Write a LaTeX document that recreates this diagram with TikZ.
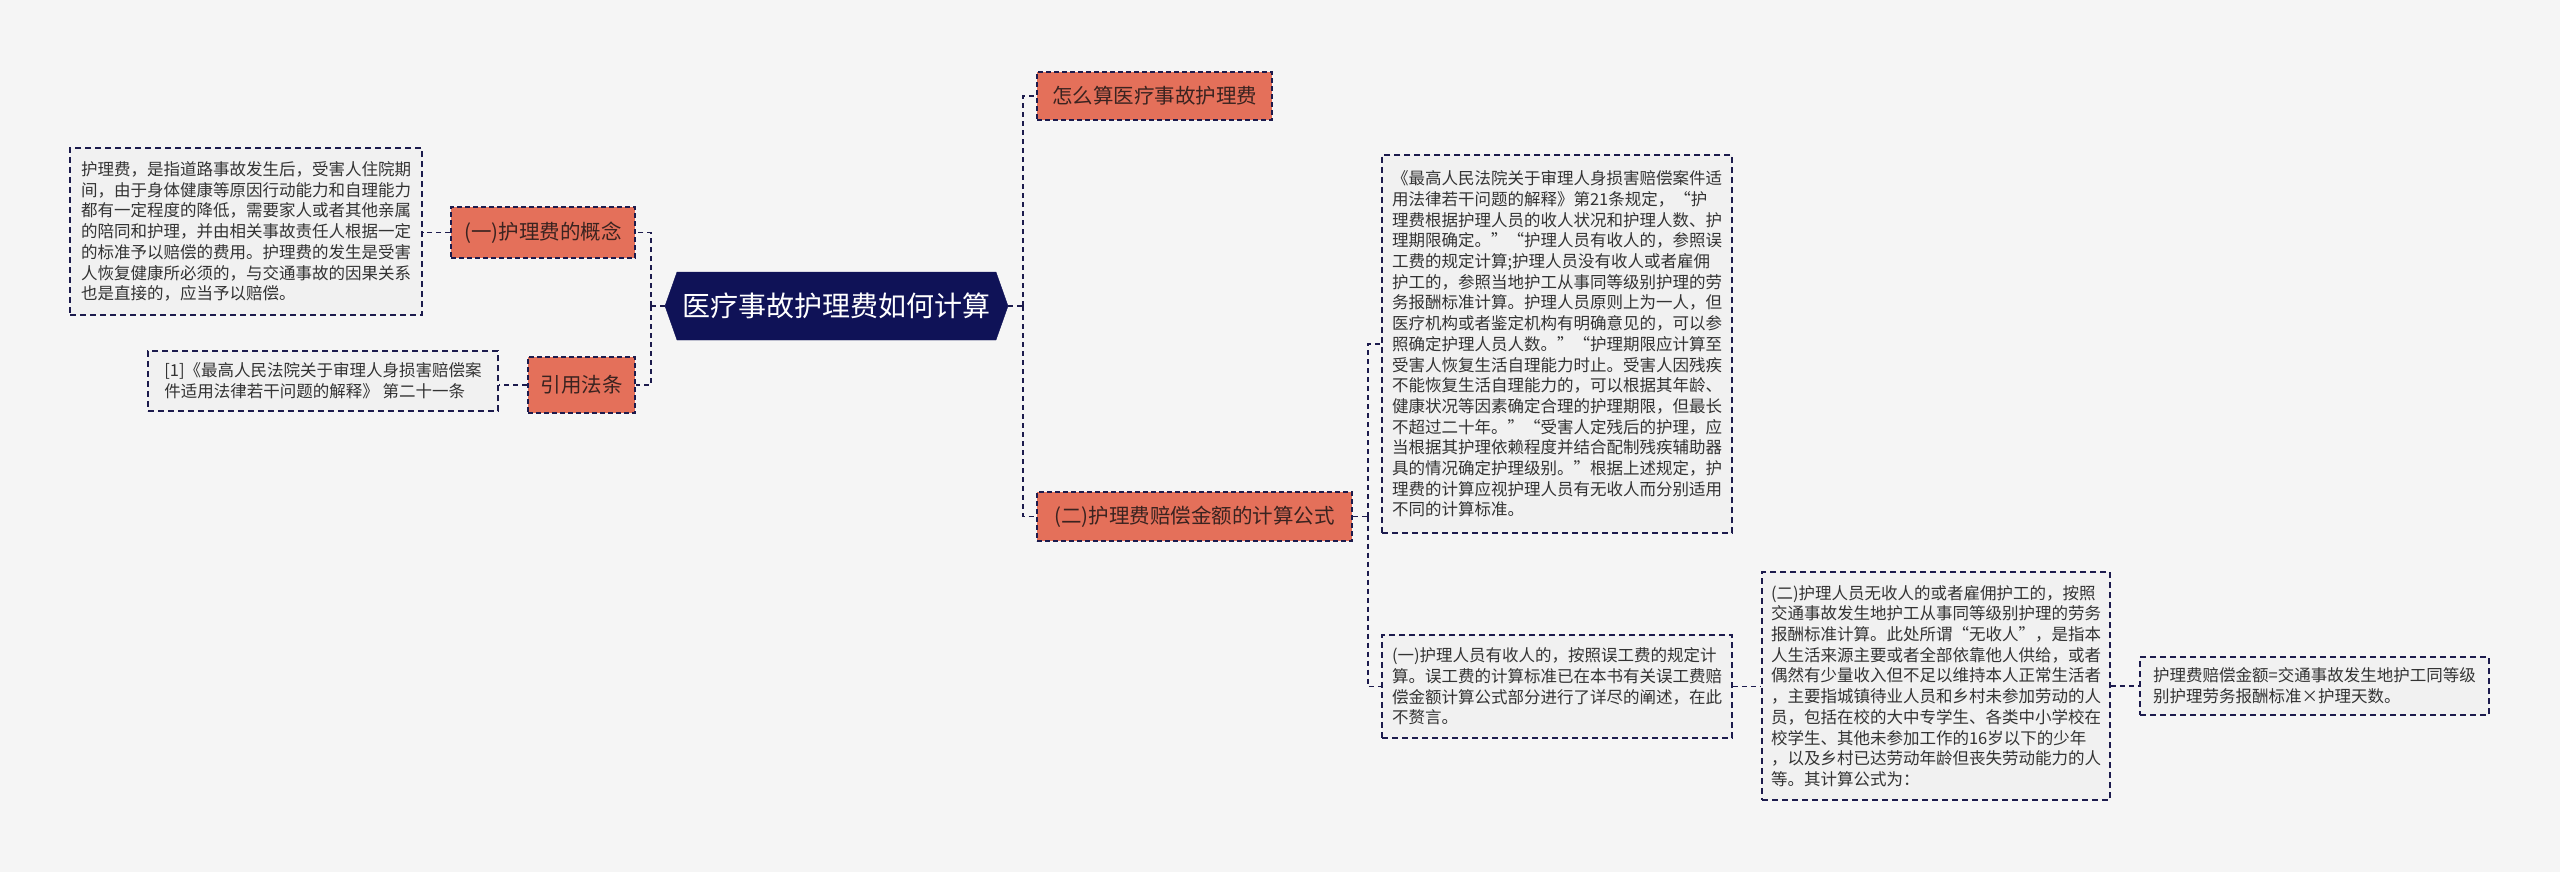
\documentclass[tikz,border=0pt]{standalone}
\usepackage{fontspec}
\newfontfamily\cjk{Noto Sans CJK SC}
\usetikzlibrary{shapes.symbols}
\definecolor{bg}{HTML}{F5F5F5}
\definecolor{navy}{HTML}{1C1B4D}
\definecolor{cfill}{HTML}{0F1257}
\definecolor{ofill}{HTML}{E4705A}
\definecolor{otext}{HTML}{3A2320}
\definecolor{lfill}{HTML}{F1F1F1}
\definecolor{ltext}{HTML}{333333}
\begin{document}
\begin{tikzpicture}[x=1pt,y=-1pt,
  conn/.style={draw=navy, line width=1.6pt, dash pattern=on 5pt off 4pt},
  topic/.style={fill=ofill, draw=navy, line width=1.6pt, dash pattern=on 5pt off 3pt, text=otext,
    font=\cjk\fontsize{20.5}{24}\selectfont, inner sep=0pt},
  leaf/.style={fill=lfill, draw=navy, line width=1.6pt, dash pattern=on 6pt off 4pt, text=ltext,
    font=\cjk\fontsize{16.5}{20.7}\selectfont, align=left, inner sep=0pt},
  central/.style={shape=signal, signal to=west and east, signal pointer angle=141, fill=cfill,
    draw=cfill, text=white, font=\cjk\fontsize{28}{32}\selectfont, inner sep=0pt}
]
\fill[bg] (0,0) rectangle (2560,872);
\useasboundingbox (0,0) rectangle (2560,872);

\node[central, minimum width=343, minimum height=68] (c) at (836.5,306) {医疗事故护理费如何计算};

\node[topic, minimum width=184, minimum height=51] (n1) at (543,232.5) {(一)护理费的概念};
\node[topic, minimum width=107, minimum height=56] (n2) at (581.5,385) {引用法条};

\node[leaf, minimum width=352, minimum height=167] (concept) at (246,231.5) {护理费，是指道路事故发生后，受害人住院期\\间，由于身体健康等原因行动能力和自理能力\\都有一定程度的降低，需要家人或者其他亲属\\的陪同和护理，并由相关事故责任人根据一定\\的标准予以赔偿的费用。护理费的发生是受害\\人恢复健康所必须的，与交通事故的因果关系\\也是直接的，应当予以赔偿。};
\node[leaf, minimum width=350, minimum height=60] (cite) at (323,381) {[1]《最高人民法院关于审理人身损害赔偿案\\件适用法律若干问题的解释》 第二十一条};

\node[topic, minimum width=235, minimum height=48] (m1) at (1154.5,96) {怎么算医疗事故护理费};
\node[topic, minimum width=315, minimum height=49] (m2) at (1194.5,516.5) {(二)护理费赔偿金额的计算公式};

\node[leaf, minimum width=350, minimum height=378] (big) at (1557,344) {《最高人民法院关于审理人身损害赔偿案件适\\用法律若干问题的解释》第21条规定，“护\\理费根据护理人员的收人状况和护理人数、护\\理期限确定。”“护理人员有收人的，参照误\\工费的规定计算;护理人员没有收人或者雇佣\\护工的，参照当地护工从事同等级别护理的劳\\务报酬标准计算。护理人员原则上为一人，但\\医疗机构或者鉴定机构有明确意见的，可以参\\照确定护理人员人数。”“护理期限应计算至\\受害人恢复生活自理能力时止。受害人因残疾\\不能恢复生活自理能力的，可以根据其年龄、\\健康状况等因素确定合理的护理期限，但最长\\不超过二十年。”“受害人定残后的护理，应\\当根据其护理依赖程度并结合配制残疾辅助器\\具的情况确定护理级别。”根据上述规定，护\\理费的计算应视护理人员有无收人而分别适用\\不同的计算标准。};

\node[leaf, minimum width=350, minimum height=103] (b1) at (1557,686.5) {(一)护理人员有收人的，按照误工费的规定计\\算。误工费的计算标准已在本书有关误工费赔\\偿金额计算公式部分进行了详尽的阐述，在此\\不赘言。};

\node[leaf, minimum width=348, minimum height=228] (b2) at (1936,686) {(二)护理人员无收人的或者雇佣护工的，按照\\交通事故发生地护工从事同等级别护理的劳务\\报酬标准计算。此处所谓“无收人”，是指本\\人生活来源主要或者全部依靠他人供给，或者\\偶然有少量收入但不足以维持本人正常生活者\\，主要指城镇待业人员和乡村未参加劳动的人\\员，包括在校的大中专学生、各类中小学校在\\校学生、其他未参加工作的16岁以下的少年\\，以及乡村已达劳动年龄但丧失劳动能力的人\\等。其计算公式为：};

\node[leaf, minimum width=349, minimum height=58] (f) at (2314.5,686) {护理费赔偿金额=交通事故发生地护工同等级\\别护理劳务报酬标准×护理天数。};

% connectors
\draw[conn] (c.west) -- ++(-14,0) coordinate (jl);
\draw[conn] (jl) |- (n1.east);
\draw[conn] (jl) |- (n2.east);
\draw[conn] (n1.west) -- (concept.east |- n1.west);
\draw[conn] (n2.west) -- (cite.east |- n2.west);

\draw[conn] (c.east) -- ++(15,0) coordinate (jr);
\draw[conn] (jr) |- (m1.west);
\draw[conn] (jr) |- (m2.west);

\draw[conn] (m2.east) -- ++(15,0) coordinate (jm);
\draw[conn] (jm) |- (big.west);
\draw[conn] (jm) |- (b1.west);

\draw[conn] (b1.east) -- (b2.west |- b1.east);
\draw[conn] (b2.east) -- (f.west);
\end{tikzpicture}
\end{document}
